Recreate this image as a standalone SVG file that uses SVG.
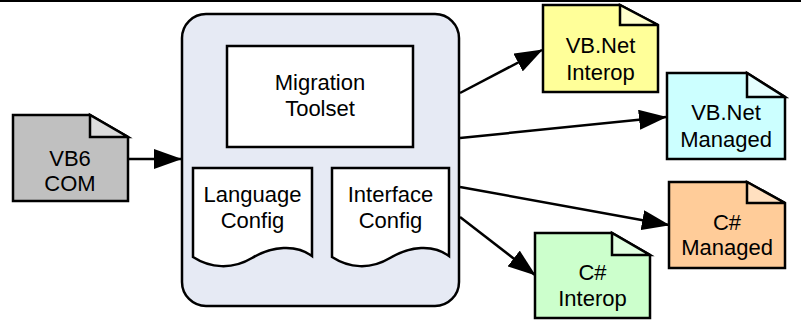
<svg xmlns="http://www.w3.org/2000/svg" width="801" height="323" viewBox="0 0 801 323">
<style>
text{font-family:"Liberation Sans",Arial,sans-serif;font-size:22px;fill:#000;text-anchor:middle}
.b{stroke:#000;stroke-width:2.5;stroke-linejoin:miter}
.c{stroke:#000;stroke-width:2.5;fill:none}
</style>
<defs>
<marker id="ah" markerUnits="userSpaceOnUse" markerWidth="28" markerHeight="20" refX="27" refY="10" orient="auto">
<path d="M0,0 L28,10 L0,20 Z" fill="#000"/>
</marker>
</defs>
<rect x="0" y="0" width="801" height="2" fill="#000"/>
<g id="connectors">
<line class="c" x1="128" y1="159" x2="181" y2="159" marker-end="url(#ah)"/>
<line class="c" x1="460" y1="93" x2="542" y2="50" marker-end="url(#ah)"/>
<line class="c" x1="460" y1="138" x2="666" y2="117" marker-end="url(#ah)"/>
<line class="c" x1="460" y1="187" x2="669" y2="225" marker-end="url(#ah)"/>
<line class="c" x1="460" y1="217" x2="535" y2="275" marker-end="url(#ah)"/>
</g>
<g id="vb6com">
<path class="b" d="M13,115 H90 L128,137 V201 H13 Z" fill="#c0c0c0"/>
<path class="b" d="M90,115 V137 H128 Z" fill="#dcdcdc"/>
<text x="70" y="166">VB6</text>
<text x="70" y="191">COM</text>
</g>
<g id="container">
<rect class="b" x="182" y="14" width="277" height="292" rx="24" ry="24" fill="#e6eaf4"/>
</g>
<g id="migration">
<rect class="b" x="227" y="46" width="186" height="101" fill="#fff"/>
<text x="320" y="90">Migration</text>
<text x="320" y="116">Toolset</text>
</g>
<g id="language">
<path class="b" d="M193,168 H312 V256 C296,244 272,246 252,258 C232,270 210,268 193,257 Z" fill="#fff"/>
<text x="252.5" y="202">Language</text>
<text x="252.5" y="228">Config</text>
</g>
<g id="interface">
<path class="b" d="M332,168 H449 V256 C433,244 410,246 390,258 C370,270 349,268 332,257 Z" fill="#fff"/>
<text x="390.5" y="202">Interface</text>
<text x="390.5" y="228">Config</text>
</g>
<g id="vbnetinterop">
<path class="b" d="M543,5 H620 L658,25 V92 H543 Z" fill="#ffff99"/>
<path class="b" d="M620,5 V25 H658 Z" fill="#ffffcc"/>
<text x="600.5" y="53">VB.Net</text>
<text x="600.5" y="80">Interop</text>
</g>
<g id="vbnetmanaged">
<path class="b" d="M667,73 H747 L785,97 V159 H667 Z" fill="#ccffff"/>
<path class="b" d="M747,73 V97 H785 Z" fill="#e6ffff"/>
<text x="726" y="120">VB.Net</text>
<text x="726" y="147">Managed</text>
</g>
<g id="csmanaged">
<path class="b" d="M669,182 H747 L785,203 V268 H669 Z" fill="#ffcc99"/>
<path class="b" d="M747,182 V203 H785 Z" fill="#ffe0c0"/>
<text x="727" y="230">C#</text>
<text x="727" y="255">Managed</text>
</g>
<g id="csinterop">
<path class="b" d="M535,233 H612 L650,255 V318 H535 Z" fill="#ccffcc"/>
<path class="b" d="M612,233 V255 H650 Z" fill="#e0ffe0"/>
<text x="592.5" y="280">C#</text>
<text x="592.5" y="306">Interop</text>
</g>
</svg>
